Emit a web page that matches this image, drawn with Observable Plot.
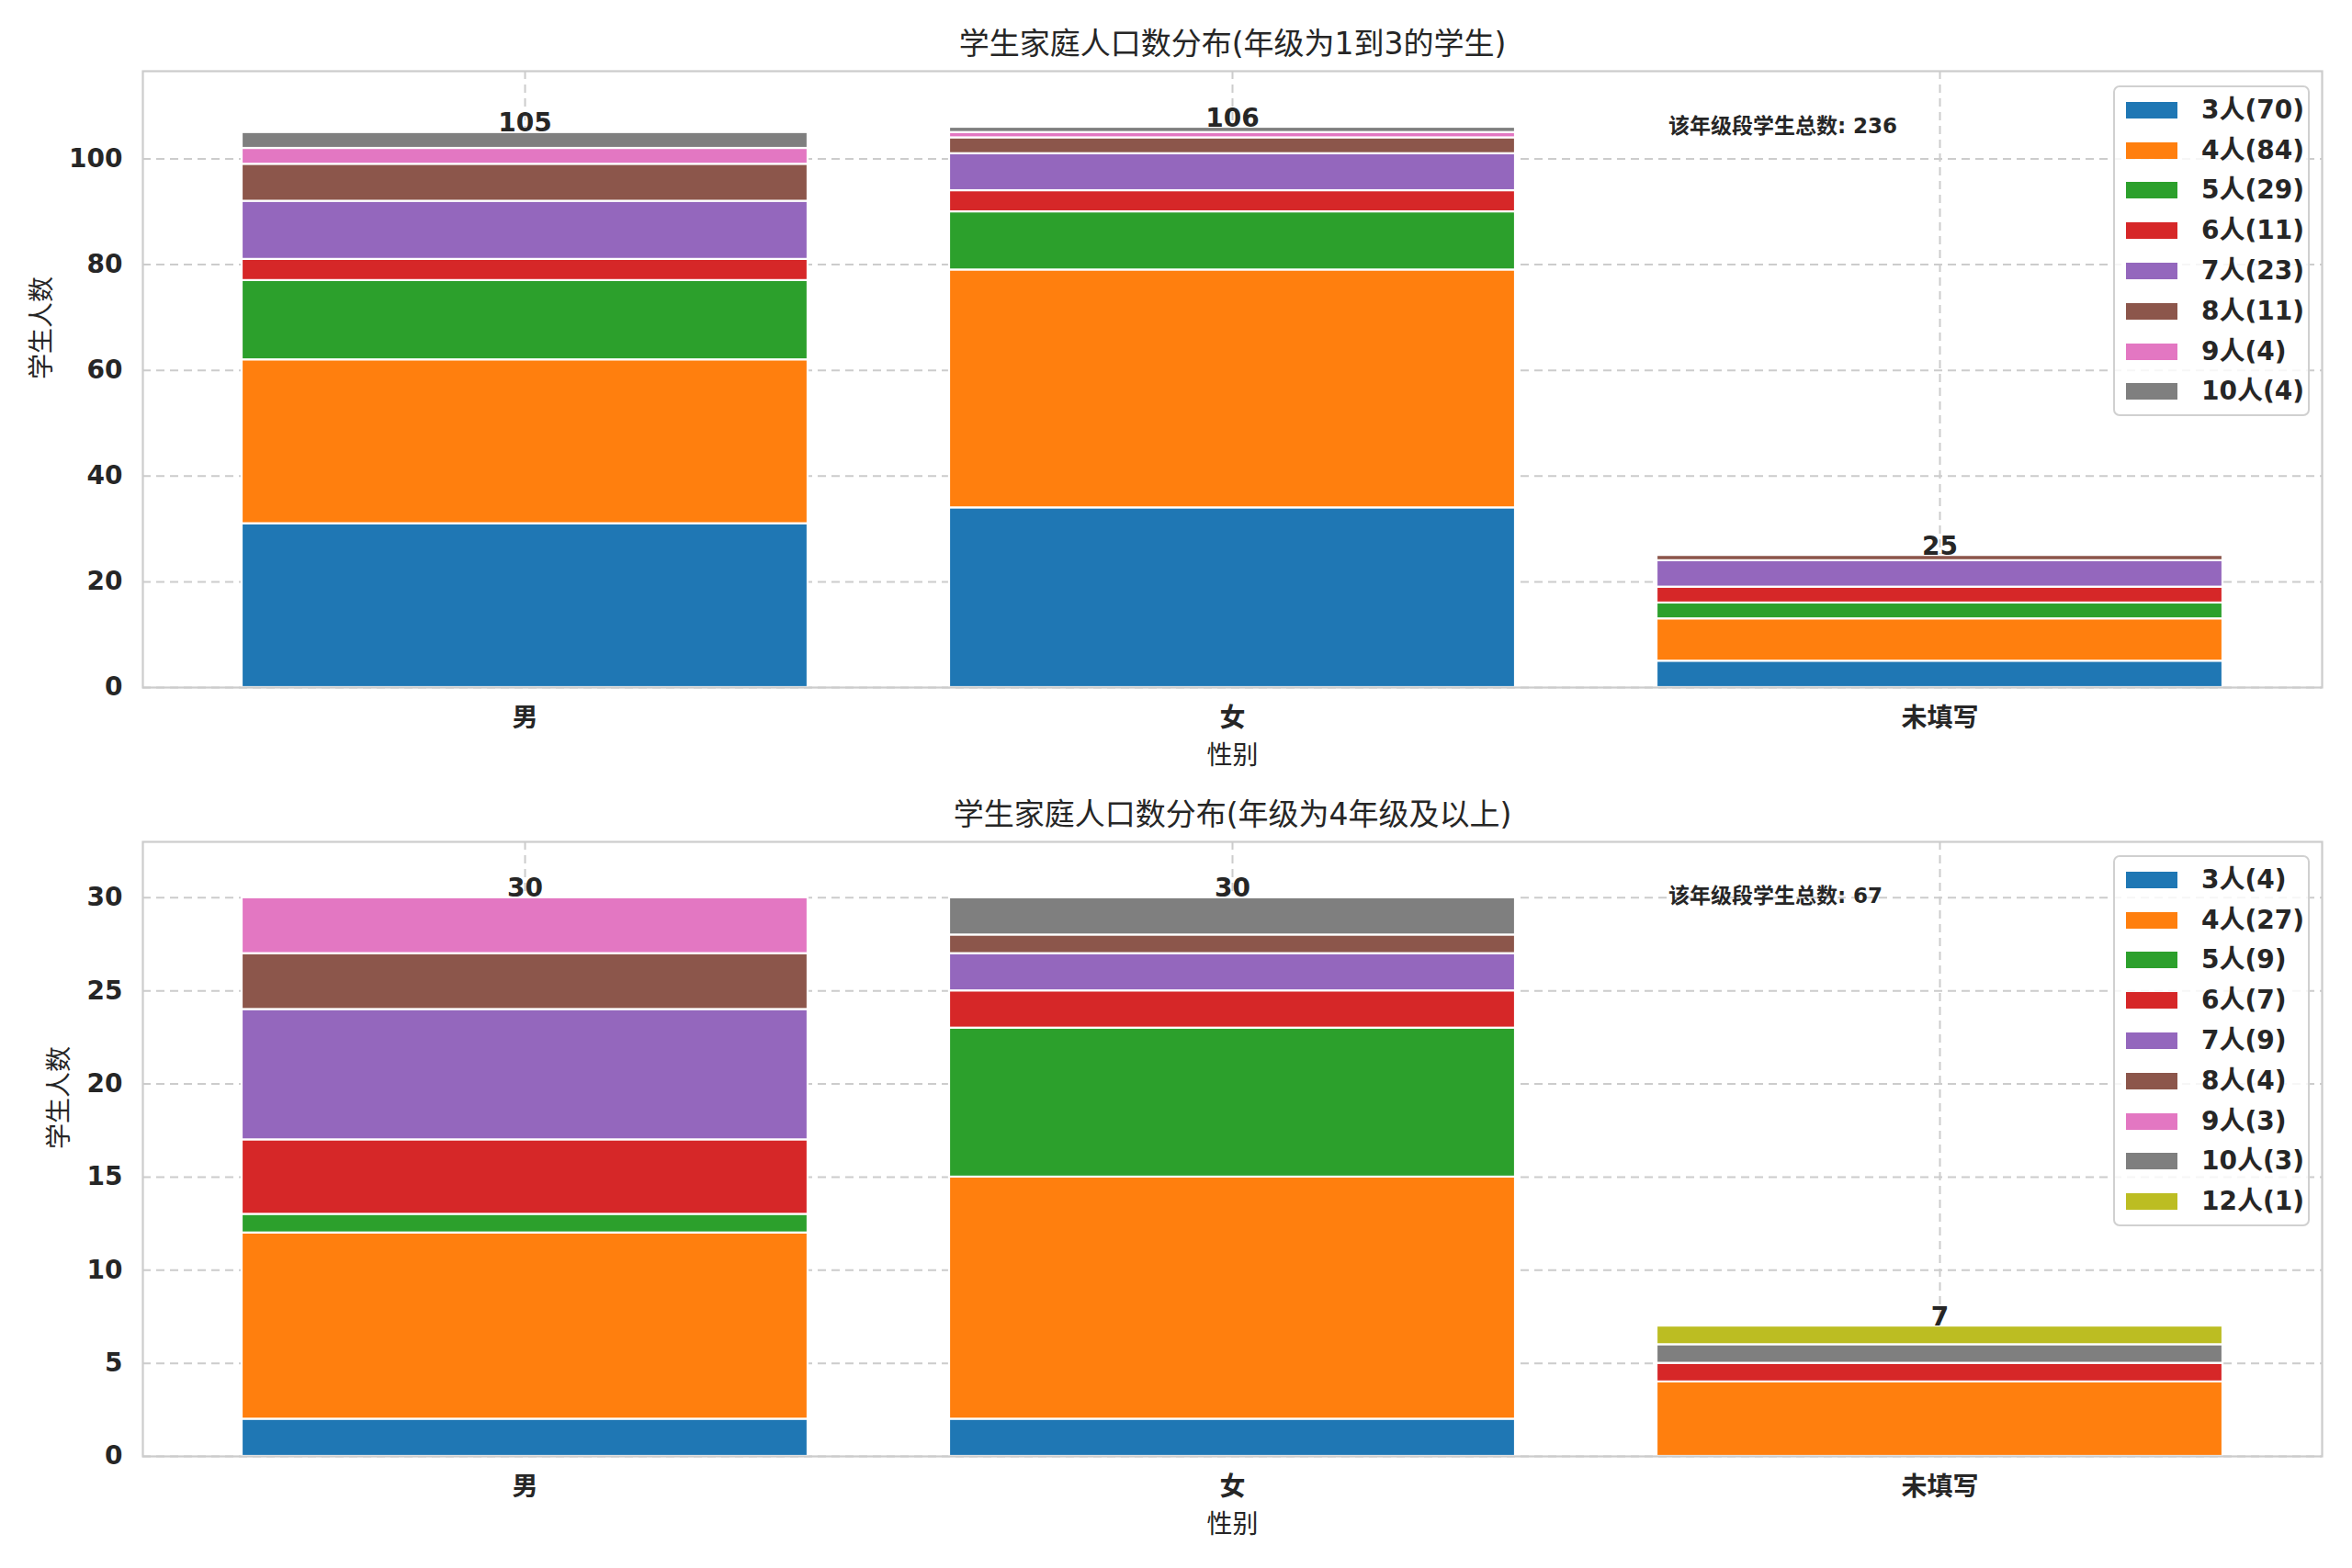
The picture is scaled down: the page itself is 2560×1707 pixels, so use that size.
<!DOCTYPE html>
<html>
<head>
<meta charset="utf-8">
<script src="https://cdn.jsdelivr.net/npm/d3@7"></script>
<script src="https://cdn.jsdelivr.net/npm/@observablehq/plot@0.6"></script>
<style>
  html, body { margin: 0; padding: 0; background: #fff; }
  #fig { position: relative; width: 2560px; height: 1707px; background: #fff; overflow: hidden;
         font-family: "DejaVu Sans", "Noto Sans CJK SC", sans-serif; color: #262626; }
  #fig svg { display: block; overflow: visible; }
  .legend { position: absolute; box-sizing: border-box; border: 2px solid #d0d0d0; border-radius: 7px;
            background: rgba(255,255,255,0.82); }
  .legend .row { position: absolute; left: 0; height: 44px; display: flex; align-items: center; }
  .legend .sw { position: absolute; left: 12px; width: 56px; height: 18px; }
  .legend .lb { position: absolute; left: 94px; font-size: 28px; font-weight: bold; white-space: nowrap; line-height: 1; }
</style>
</head>
<body>
<div id="fig"></div>
<script>
// ---- data ----
const categories = ["男", "女", "未填写"];
const unit = "人";

const topTitle = "学生家庭人口数分布(年级为1到3的学生)";
const topSizes = [3, 4, 5, 6, 7, 8, 9, 10];
const topMale    = [31, 31, 15, 4, 11, 7, 3, 3];
const topFemale  = [34, 45, 11, 4, 7, 3, 1, 1];
const topUnknown = [5, 8, 3, 3, 5, 1, 0, 0];
const topYTicks = [0, 20, 40, 60, 80, 100];

const bottomTitle = "学生家庭人口数分布(年级为4年级及以上)";
const bottomSizes = [3, 4, 5, 6, 7, 8, 9, 10, 12];
const bottomMale    = [2, 10, 1, 4, 7, 3, 3, 0, 0];
const bottomFemale  = [2, 13, 8, 2, 2, 1, 0, 2, 0];
const bottomUnknown = [0, 4, 0, 1, 0, 0, 0, 1, 1];
const bottomYTicks = [0, 5, 10, 15, 20, 25, 30];

const xLabel = "性别";
const yLabel = "学生人数";
const totalPrefix = "该年级段学生总数";

const palette = ["#1f77b4", "#ff7f0e", "#2ca02c", "#d62728", "#9467bd", "#8c564b", "#e377c2", "#7f7f7f", "#bcbd22"];

const FONT = '"DejaVu Sans", "Noto Sans CJK SC", sans-serif';
const W = 2560;
const ML = 155, MR = 33;

function panel({title, sizes, series, yTicks, height, marginTop, marginBottom, yLabelDx, legendTop}) {
  const labels = sizes.map(s => s + unit);
  const data = [];
  sizes.forEach((s, j) => {
    categories.forEach((c, i) => {
      const v = series[i][j];
      if (v > 0) data.push({cat: c, size: labels[j], count: v});
    });
  });
  const totals = series.map(arr => d3.sum(arr));
  const grand = d3.sum(totals);
  const ymax = d3.max(totals) * 1.1;
  const plotW = W - ML - MR;
  const plotH = height - marginTop - marginBottom;

  const svg = Plot.plot({
    width: W, height,
    marginLeft: ML, marginRight: MR, marginTop, marginBottom,
    style: {fontFamily: FONT, color: "#262626", background: "transparent", overflow: "visible"},
    x: {type: "band", domain: categories, paddingInner: 0.2, paddingOuter: 0.14, label: null},
    y: {domain: [0, ymax], label: null},
    color: {domain: labels, range: palette.slice(0, labels.length)},
    marks: [
      Plot.gridY(yTicks, {stroke: "#cccccc", strokeOpacity: 1, strokeWidth: 2, strokeDasharray: "9,6"}),
      Plot.gridX(categories, {stroke: "#cccccc", strokeOpacity: 1, strokeWidth: 2, strokeDasharray: "9,6"}),
      Plot.barY(data, {x: "cat", y: "count", fill: "size", stroke: "white", strokeWidth: 2.2}),
      Plot.frame({stroke: "#cccccc", strokeWidth: 2.2}),
      Plot.axisY(yTicks, {tickSize: 0, tickPadding: 22, fontSize: 28, fontWeight: "bold", label: null}),
      Plot.axisX({tickSize: 0, tickPadding: 23, fontSize: 28, fontWeight: "bold", label: null}),
      Plot.text(categories, {x: d => d, y: (d, i) => totals[i], text: (d, i) => String(totals[i]),
        lineAnchor: "bottom", dy: -1, fontSize: 28, fontWeight: "bold", fill: "#262626"}),
      Plot.text([title], {frameAnchor: "top", dy: -29, lineAnchor: "middle",
        fontSize: 33, fill: "#262626"}),
      Plot.text([`${totalPrefix}: ${grand}`], {frameAnchor: "top-left", dx: 0.7 * plotW, dy: 0.1 * plotH,
        lineAnchor: "bottom", textAnchor: "start", fontSize: 23, fontWeight: "bold", fill: "#262626"}),
      Plot.text([xLabel], {frameAnchor: "bottom", dy: 75, lineAnchor: "middle", fontSize: 28, fill: "#262626"}),
      Plot.text([yLabel], {frameAnchor: "left", dx: yLabelDx, rotate: -90, lineAnchor: "middle",
        fontSize: 28, fill: "#262626"})
    ]
  });
  const wrap = document.createElement("div");
  wrap.style.position = "relative";
  wrap.style.height = height + "px";
  wrap.appendChild(svg);

  // legend (HTML), built from the same labels/colors
  const sums = sizes.map((s, j) => d3.sum(series, arr => arr[j]));
  const rowH = 43.8;
  const leg = document.createElement("div");
  leg.className = "legend";
  leg.style.left = "2300px";
  leg.style.top = legendTop + "px";
  leg.style.width = "214px";
  leg.style.height = (labels.length * rowH + 10) + "px";
  labels.forEach((lab, j) => {
    const row = document.createElement("div");
    row.className = "row";
    row.style.top = (3 + j * rowH) + "px";
    row.style.width = "100%";
    const sw = document.createElement("div");
    sw.className = "sw";
    sw.style.background = palette[j];
    sw.style.top = (rowH / 2 - 9) + "px";
    const lb = document.createElement("div");
    lb.className = "lb";
    lb.textContent = `${lab}(${sums[j]})`;
    lb.style.top = (rowH / 2 - 14) + "px";
    row.appendChild(sw);
    row.appendChild(lb);
    leg.appendChild(row);
  });
  wrap.appendChild(leg);
  return wrap;
}

const fig = document.getElementById("fig");
fig.appendChild(panel({
  title: topTitle, sizes: topSizes, series: [topMale, topFemale, topUnknown], yTicks: topYTicks,
  height: 854, marginTop: 77, marginBottom: 106, yLabelDx: -109, legendTop: 93
}));
fig.appendChild(panel({
  title: bottomTitle, sizes: bottomSizes, series: [bottomMale, bottomFemale, bottomUnknown], yTicks: bottomYTicks,
  height: 853, marginTop: 62, marginBottom: 122, yLabelDx: -90, legendTop: 77
}));
</script>
</body>
</html>
